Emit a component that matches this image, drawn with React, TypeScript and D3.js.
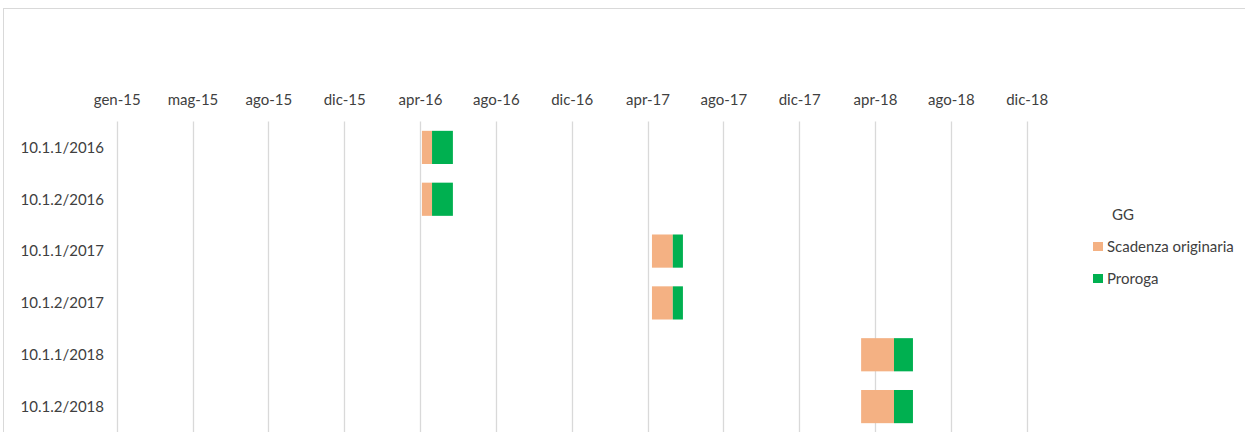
import React, { useEffect, useRef } from "react";
import * as d3 from "d3";

// ---------------------- data
const categories = [
   "10.1.1/2016",
   "10.1.2/2016",
   "10.1.1/2017",
   "10.1.2/2017",
   "10.1.1/2018",
   "10.1.2/2018"
];
const startDates = [
   "2016-04-28",
   "2016-04-28",
   "2017-04-27",
   "2017-04-27",
   "2018-03-24",
   "2018-03-24"
];
const scadenzaDays = [16, 16, 33, 33, 52, 52];
const prorogaDays = [33, 33, 16, 16, 30, 30];

const tickLabels = [
   "gen-15",
   "mag-15",
   "ago-15",
   "dic-15",
   "apr-16",
   "ago-16",
   "dic-16",
   "apr-17",
   "ago-17",
   "dic-17",
   "apr-18",
   "ago-18",
   "dic-18"
];
const axisStart = "2015-01-01";
const majorUnitDays = 120;

const legendTitle = "GG";
const seriesNames = ["Scadenza originaria", "Proroga"];
const seriesColors = ["#f4b183", "#00b050"];

const FONT = "Lato, 'Open Sans', sans-serif";
const TEXT = "#404040";

const App = () => {
   const svgRef = useRef();
   const width = 1245;
   const height = 432;

   useEffect(() => {
      const svg = d3.select(svgRef.current);
      svg.selectAll("*").remove();

      const margin = { top: 121.5, bottom: -0.5, left: 116.7, right: 218.3 };

      // chart border (cropped on right / bottom)
      svg.append("rect")
         .attr("x", 3.5)
         .attr("y", 8.5)
         .attr("width", width + 10)
         .attr("height", height + 10)
         .attr("fill", "#fff")
         .attr("stroke", "#d9d9d9");

      // ---------------------- scale
      const parse = d3.utcParse("%Y-%m-%d");
      const t0 = parse(axisStart);
      const tickDates = tickLabels.map((_, i) =>
         d3.utcDay.offset(t0, i * majorUnitDays)
      );

      const x = d3
         .scaleUtc()
         .domain([t0, tickDates[tickDates.length - 1]])
         .range([margin.left, width - margin.right]);

      const y = d3
         .scaleBand()
         .domain(categories)
         .range([margin.top, height - margin.bottom])
         .paddingInner(0.36)
         .paddingOuter(0.18);

      // ---------------------- gridlines
      svg.append("g")
         .selectAll("line")
         .data(tickDates)
         .join("line")
         .attr("x1", d => Math.round(x(d)) + 0.5)
         .attr("x2", d => Math.round(x(d)) + 0.5)
         .attr("y1", margin.top)
         .attr("y2", height)
         .attr("stroke", "#d9d9d9")
         .attr("stroke-width", 1.3);

      // ---------------------- x axis (top)
      const xAxis = svg
         .append("g")
         .attr("transform", "translate(0, 108)")
         .call(
            d3
               .axisTop(x)
               .tickValues(tickDates)
               .tickFormat((d, i) => tickLabels[i])
               .tickSize(0)
         );
      xAxis.select(".domain").remove();
      xAxis
         .attr("font-family", FONT)
         .attr("font-size", 15)
         .selectAll("text")
         .attr("fill", TEXT);

      // ---------------------- y labels
      svg.append("g")
         .selectAll("text")
         .data(categories)
         .join("text")
         .attr("x", 104)
         .attr("y", d => y(d) + y.bandwidth() / 2)
         .attr("dy", "0.35em")
         .attr("text-anchor", "end")
         .attr("font-family", FONT)
         .attr("font-size", 15)
         .attr("fill", TEXT)
         .text(d => d);

      // ---------------------- bars
      const segments = categories.flatMap((c, i) => {
         const s = parse(startDates[i]);
         const m = d3.utcDay.offset(s, scadenzaDays[i]);
         const e = d3.utcDay.offset(m, prorogaDays[i]);
         return [
            { cat: c, key: 0, x0: s, x1: m },
            { cat: c, key: 1, x0: m, x1: e }
         ];
      });

      svg.append("g")
         .selectAll("rect")
         .data(segments)
         .join("rect")
         .attr("x", d => x(d.x0))
         .attr("width", d => x(d.x1) - x(d.x0))
         .attr("y", d => y(d.cat))
         .attr("height", y.bandwidth())
         .attr("fill", d => seriesColors[d.key]);

      // ---------------------- legend
      const legend = svg.append("g").attr("font-family", FONT).attr("font-size", 15);
      legend
         .append("text")
         .attr("x", 1112)
         .attr("y", 220)
         .attr("fill", TEXT)
         .text(legendTitle);

      const items = legend
         .selectAll(".item")
         .data(seriesNames)
         .join("g")
         .attr("class", "item")
         .attr("transform", (d, i) => `translate(1093, ${252 + i * 32})`);
      items
         .append("rect")
         .attr("y", -10)
         .attr("width", 10)
         .attr("height", 9)
         .attr("fill", (d, i) => seriesColors[i]);
      items
         .append("text")
         .attr("x", 14)
         .attr("fill", TEXT)
         .text(d => d);
   }, []);

   return (
      <svg
         ref={svgRef}
         width={width}
         height={height}
         style={{ position: "absolute", left: 0, top: 0, background: "#fff" }}
      />
   );
};

export default App;
